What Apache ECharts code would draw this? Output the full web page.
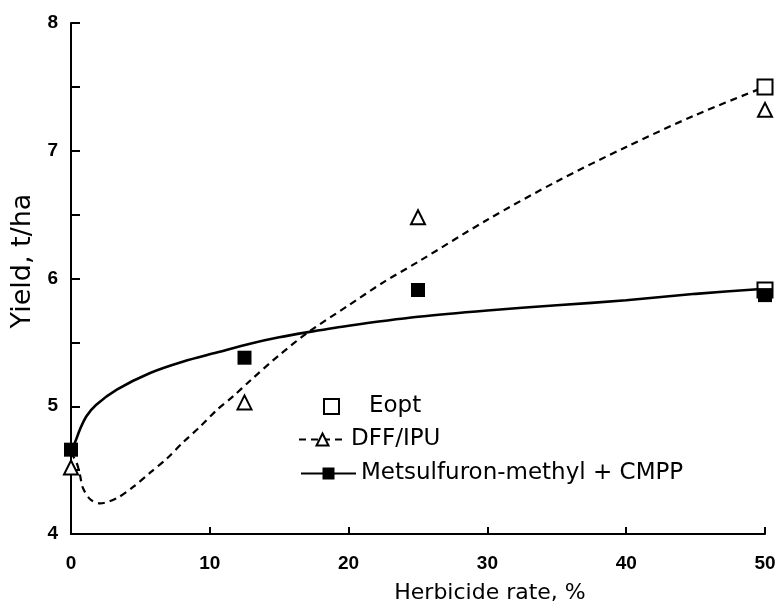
<!DOCTYPE html>
<html>
<head>
<meta charset="utf-8">
<script src="https://cdn.jsdelivr.net/npm/echarts@6/dist/echarts.min.js"></script>
<style>
  html, body { margin: 0; padding: 0; background: #fff; }
  #chart { width: 778px; height: 603px; }
</style>
</head>
<body>
<div id="chart"></div>
<script>
// Observed yields (t/ha) at each herbicide rate (%)
const rates = [0, 12.5, 25, 50];
const dffIpuObserved = [4.52, 5.03, 6.48, 7.32];
const metsulfuronObserved = [4.66, 5.38, 5.91, 5.87];

// Economic optimum points
const eoptRates = [50, 50];
const eoptYields = [7.5, 5.91];

// Fitted response curves
const dffCurveX = [0, 0.43, 0.65, 0.86, 1.4, 2.1, 3.3, 4.5, 5.7, 6.9, 8.1, 9.3, 10.5, 11.7, 12.9, 15, 17.1, 20, 22.5, 25, 30, 35, 40, 45, 50];
const dffCurveY = [4.64, 4.55, 4.46, 4.36, 4.27, 4.24, 4.28, 4.37, 4.48, 4.59, 4.72, 4.84, 4.97, 5.08, 5.2, 5.4, 5.58, 5.79, 5.97, 6.13, 6.46, 6.76, 7.03, 7.28, 7.5];
const metCurveX = [0, 0.3, 0.65, 1.1, 1.8, 3.3, 5.7, 8.1, 10.5, 12.9, 15, 17.1, 20, 25, 30, 35, 40, 45, 50];
const metCurveY = [4.65, 4.72, 4.82, 4.92, 5.01, 5.13, 5.26, 5.35, 5.42, 5.49, 5.54, 5.58, 5.63, 5.70, 5.75, 5.79, 5.83, 5.88, 5.92];

// Axis ticks
const xTicks = { min: 0, max: 50, step: 10 };
const yTicks = { min: 4, max: 8, step: 0.5 };

const pair = (xs, ys) => xs.map((x, i) => [x, ys[i]]);

const FONT = 'DejaVu Sans';
const legendText = { fontFamily: FONT, fontSize: 23, color: '#000' };
const tickText = { fontFamily: 'Liberation Sans', fontSize: 19, fontWeight: 'bold', color: '#000' };
const chart = echarts.init(document.getElementById('chart'), null, { renderer: 'canvas' });

chart.setOption({
  backgroundColor: '#ffffff',
  animation: false,
  textStyle: { fontFamily: FONT, color: '#000' },
  grid: { left: 71, right: 13, top: 23, bottom: 69, containLabel: false, outerBoundsMode: 'none' },
  xAxis: {
    type: 'value',
    min: xTicks.min, max: xTicks.max, interval: xTicks.step,
    name: 'Herbicide rate, %',
    nameLocation: 'middle',
    nameGap: 48,
    nameTextStyle: { fontFamily: FONT, fontSize: 22, color: '#000', padding: [0, 0, 0, 144] },
    axisLine: { lineStyle: { color: '#000', width: 2 } },
    axisTick: { inside: true, length: 7, lineStyle: { color: '#000', width: 2 } },
    axisLabel: Object.assign({ margin: 20 }, tickText),
    splitLine: { show: false }
  },
  yAxis: {
    type: 'value',
    min: yTicks.min, max: yTicks.max, interval: yTicks.step,
    name: 'Yield, t/ha',
    nameLocation: 'middle',
    nameGap: 35,
    nameTextStyle: { fontFamily: FONT, fontSize: 27, color: '#000', padding: [0, 0, 0, 35] },
    axisLine: { lineStyle: { color: '#000', width: 2 } },
    axisTick: { inside: true, length: 9, lineStyle: { color: '#000', width: 2 } },
    axisLabel: Object.assign({
      margin: 13,
      formatter: v => (Number.isInteger(v) ? String(v) : '')
    }, tickText),
    splitLine: { show: false }
  },
  legend: [
    {
      data: ['Eopt'],
      left: 318, top: 390,
      itemWidth: 15, itemHeight: 15,
      textStyle: Object.assign({ padding: [0, 0, 0, 25] }, legendText),
      selectedMode: false
    },
    {
      data: ['DFF/IPU'],
      left: 293, top: 423,
      itemWidth: 47, itemHeight: 15,
      textStyle: legendText,
      selectedMode: false
    },
    {
      data: ['Metsulfuron-methyl + CMPP'],
      left: 295, top: 457,
      itemWidth: 55, itemHeight: 15,
      textStyle: legendText,
      selectedMode: false
    }
  ],
  series: [
    {
      name: 'DFF/IPU',
      type: 'line',
      data: pair(dffCurveX, dffCurveY),
      smooth: 0.3,
      showSymbol: false,
      symbol: 'triangle',
      itemStyle: { color: '#fff', borderColor: '#000', borderWidth: 2 },
      lineStyle: { color: '#000', width: 2.2, type: [7, 5] },
      silent: true,
      z: 2
    },
    {
      name: 'Metsulfuron-methyl + CMPP',
      type: 'line',
      data: pair(metCurveX, metCurveY),
      smooth: 0.3,
      showSymbol: false,
      symbol: 'rect',
      itemStyle: { color: '#000', borderColor: '#000' },
      lineStyle: { color: '#000', width: 2.6 },
      silent: true,
      z: 2
    },
    {
      name: 'Eopt',
      type: 'scatter',
      data: pair(eoptRates, eoptYields),
      symbol: 'rect',
      symbolSize: 15,
      itemStyle: { color: '#fff', borderColor: '#000', borderWidth: 2, opacity: 1 },
      clip: false,
      z: 3
    },
    {
      name: 'DFF/IPU observed',
      type: 'scatter',
      data: pair(rates, dffIpuObserved),
      symbol: 'triangle',
      symbolSize: 14,
      itemStyle: { color: '#fff', borderColor: '#000', borderWidth: 2, opacity: 1 },
      clip: false,
      z: 4
    },
    {
      name: 'Metsulfuron-methyl + CMPP observed',
      type: 'scatter',
      data: pair(rates, metsulfuronObserved),
      symbol: 'rect',
      symbolSize: 14,
      itemStyle: { color: '#000', opacity: 1 },
      clip: false,
      z: 5
    }
  ]
});
</script>
</body>
</html>
